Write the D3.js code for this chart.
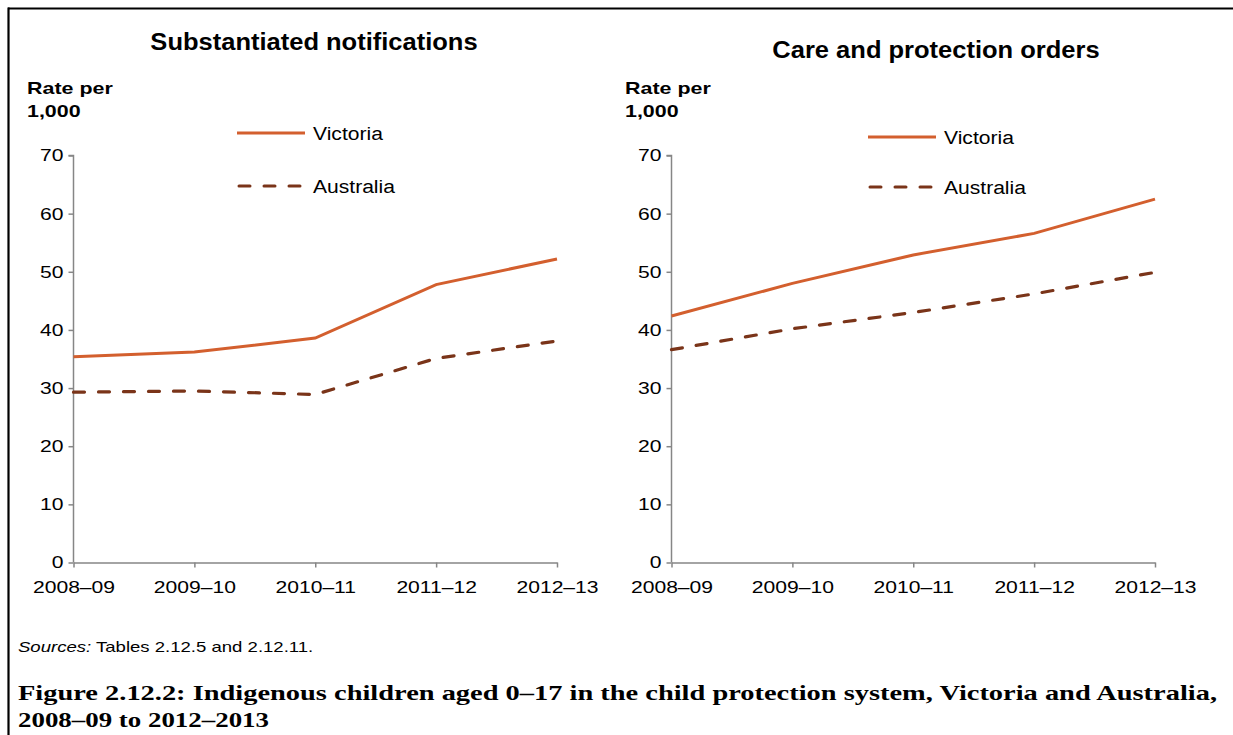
<!DOCTYPE html>
<html><head><meta charset="utf-8">
<script src="https://cdn.jsdelivr.net/npm/d3@7"></script>
<style>body{margin:0;background:#fff}svg{display:block}</style>
</head><body>
<svg id="c" width="1233" height="735"></svg>
<script>
const categories = ["2008–09","2009–10","2010–11","2011–12","2012–13"];
const yTicks = [0,10,20,30,40,50,60,70];
const seriesNames = ["Victoria","Australia"];
const notifVictoria = [35.4, 36.2, 38.6, 47.8, 52.2];
const notifAustralia = [29.3, 29.5, 28.9, 35.1, 38.1];
const ordersVictoria = [42.4, 48.0, 52.9, 56.6, 62.5];
const ordersAustralia = [36.6, 40.2, 43.0, 46.2, 49.9];
const panelTitles = ["Substantiated notifications","Care and protection orders"];

const svg = d3.select("#c");
const FONT = "'Liberation Sans', Arial, sans-serif";
const SERIF = "'Liberation Serif', 'DejaVu Serif', serif";
const VIC = "#d35f2e", AUS = "#7a3419", AXIS = "#868686";

function stretch(sel, sx) {
  sel.each(function() {
    const w = this.getComputedTextLength();
    d3.select(this).attr("textLength", w * sx).attr("lengthAdjust", "spacingAndGlyphs");
  });
}

// frame
svg.append("line").attr("x1",8).attr("x2",1233).attr("y1",8.5).attr("y2",8.5).attr("stroke","#000").attr("stroke-width",2.2);
svg.append("line").attr("x1",8.5).attr("x2",8.5).attr("y1",7.5).attr("y2",735).attr("stroke","#000").attr("stroke-width",2.2);

const panels = [
  {title: panelTitles[0], tx: 314, ty: 50, x0: 73.5, x1: 557, lab: 27, legX: 237, legY: [133, 186], vic: notifVictoria, aus: notifAustralia},
  {title: panelTitles[1], tx: 936, ty: 58, x0: 671.5, x1: 1155, lab: 625, legX: 868, legY: [137, 187], vic: ordersVictoria, aus: ordersAustralia}
];

panels.forEach(p => {
  const g = svg.append("g");
  const x = d3.scalePoint().domain(categories).range([p.x0, p.x1]);
  const y = d3.scaleLinear().domain([0,70]).range([562.5, 155.5]);

  g.append("text").attr("x", p.tx).attr("y", p.ty).attr("text-anchor","middle")
    .attr("font-family", FONT).attr("font-weight","bold").attr("font-size", 23.5).text(p.title)
    .call(stretch, 1.085);
  g.append("text").attr("x", p.lab).attr("y", 94).attr("font-family", FONT).attr("font-weight","bold").attr("font-size",17).text("Rate per").call(stretch, 1.26);
  g.append("text").attr("x", p.lab).attr("y", 117).attr("font-family", FONT).attr("font-weight","bold").attr("font-size",17).text("1,000").call(stretch, 1.26);

  const ya = g.append("g").attr("transform", `translate(${p.x0},0)`)
    .call(d3.axisLeft(y).tickValues(yTicks).tickSize(5).tickPadding(5).tickFormat(d3.format("d")));
  const xa = g.append("g").attr("transform", `translate(0,${y(0)})`)
    .call(d3.axisBottom(x).tickSize(5).tickPadding(13).tickSizeOuter(0));
  [ya, xa].forEach(a => {
    a.select(".domain").attr("stroke", AXIS).attr("stroke-width", 1.5);
    a.selectAll(".tick line").attr("stroke", AXIS).attr("stroke-width", 1.5);
    a.selectAll("text").attr("font-family", FONT).attr("font-size", 17).attr("fill","#000").call(stretch, 1.24);
  });
  ya.select(".domain").attr("d", `M-5,${y(70)}H0V${y(0)}`);

  const line = d3.line().x((d,i) => x(categories[i])).y(d => y(d));
  g.append("path").datum(p.vic).attr("d", line).attr("fill","none").attr("stroke", VIC).attr("stroke-width", 3);
  g.append("path").datum(p.aus).attr("d", line).attr("fill","none").attr("stroke", AUS).attr("stroke-width", 3.2)
    .attr("stroke-dasharray","11,14").attr("stroke-linecap","round");

  // legend
  const leg = [{name: seriesNames[0], c: VIC, dash: null}, {name: seriesNames[1], c: AUS, dash: "11,14"}];
  leg.forEach((l, i) => {
    const ly = p.legY[i];
    g.append("line").attr("x1", p.legX + (l.dash ? 2 : 0)).attr("x2", p.legX + 68).attr("y1", ly).attr("y2", ly)
      .attr("stroke", l.c).attr("stroke-width", 3).attr("stroke-dasharray", l.dash).attr("stroke-linecap", l.dash ? "round" : "butt");
    g.append("text").attr("x", p.legX + 76).attr("y", ly + 6.5).attr("font-family", FONT).attr("font-size", 18).text(l.name)
      .call(stretch, 1.17);
  });
});

// sources
const src = svg.append("text").attr("transform", "translate(18,652) scale(1.28,1)").attr("font-family", FONT).attr("font-size", 14.5);
src.append("tspan").attr("font-style","italic").text("Sources:");
src.append("tspan").text(" Tables 2.12.5 and 2.12.11.");

// caption
svg.append("text").attr("x", 18).attr("y", 700).attr("font-family", SERIF).attr("font-weight","bold").attr("font-size", 21)
  .attr("textLength", 1199).attr("lengthAdjust","spacingAndGlyphs")
  .text("Figure 2.12.2: Indigenous children aged 0–17 in the child protection system, Victoria and Australia,");
svg.append("text").attr("x", 18).attr("y", 727).attr("font-family", SERIF).attr("font-weight","bold").attr("font-size", 21)
  .attr("textLength", 251).attr("lengthAdjust","spacingAndGlyphs")
  .text("2008–09 to 2012–2013");
</script>
</body></html>
